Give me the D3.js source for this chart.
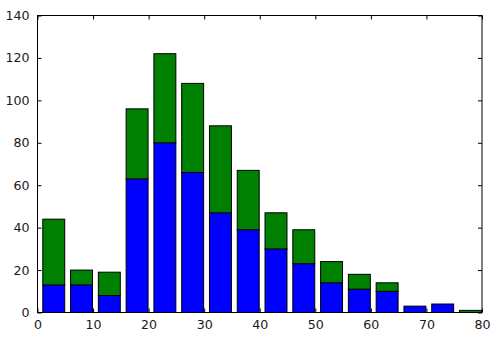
<!DOCTYPE html>
<html>
<head>
<meta charset="utf-8">
<script src="https://cdn.jsdelivr.net/npm/d3@7"></script>
<style>
  body { margin: 0; background: #fff; }
  text { font-family: "DejaVu Sans", sans-serif; font-size: 12.6px; fill: #1a1a1a; }
</style>
</head>
<body>
<svg id="chart" width="500" height="340"></svg>
<script>
// histogram bins (left edge of each bin, width 5)
var binLeft = [0, 5, 10, 15, 20, 25, 30, 35, 40, 45, 50, 55, 60, 65, 70, 75];
// bottom series (blue) and stacked series (green)
var blueCounts = [13, 13, 8, 63, 80, 66, 47, 39, 30, 23, 14, 11, 10, 3, 4, 0];
var greenCounts = [31, 7, 11, 33, 42, 42, 41, 28, 17, 16, 10, 7, 4, 0, 0, 1];
var xTicks = [0, 10, 20, 30, 40, 50, 60, 70, 80];
var yTicks = [0, 20, 40, 60, 80, 100, 120, 140];

var margin = {left: 37.5, right: 18, top: 15.5, bottom: 27.5};
var width = 500, height = 340;

var svg = d3.select('#chart');

var x = d3.scaleLinear().domain([0, 80]).range([margin.left, width - margin.right]);
var y = d3.scaleLinear().domain([0, 140]).range([height - margin.bottom, margin.top]);

var barOffset = 0.95, barWidth = 3.95;

var g = svg.append('g');

// blue bars
g.selectAll('rect.blue')
    .data(binLeft.filter(function(d, i) { return blueCounts[i] > 0; }))
    .enter().append('rect')
    .attr('class', 'blue')
    .attr('x', function(d) { return x(d + barOffset); })
    .attr('width', function(d) { return x(d + barOffset + barWidth) - x(d + barOffset); })
    .attr('y', function(d) { return y(blueCounts[binLeft.indexOf(d)]); })
    .attr('height', function(d) { return y(0) - y(blueCounts[binLeft.indexOf(d)]); })
    .attr('fill', '#0000ff')
    .attr('stroke', '#000')
    .attr('stroke-width', 1);

// green bars stacked on top
g.selectAll('rect.green')
    .data(binLeft.filter(function(d, i) { return greenCounts[i] > 0; }))
    .enter().append('rect')
    .attr('class', 'green')
    .attr('x', function(d) { return x(d + barOffset); })
    .attr('width', function(d) { return x(d + barOffset + barWidth) - x(d + barOffset); })
    .attr('y', function(d) {
        var i = binLeft.indexOf(d);
        return y(blueCounts[i] + greenCounts[i]);
    })
    .attr('height', function(d) {
        var i = binLeft.indexOf(d);
        return y(blueCounts[i]) - y(blueCounts[i] + greenCounts[i]);
    })
    .attr('fill', '#008000')
    .attr('stroke', '#000')
    .attr('stroke-width', 1);

// axes, matplotlib classic style: inward ticks on all sides
var tickLen = 4;
var bottomAxis = d3.axisBottom(x).tickValues(xTicks).tickSize(-tickLen).tickPadding(8).tickFormat(d3.format('d'));
var topAxis = d3.axisTop(x).tickValues(xTicks).tickSize(-tickLen).tickFormat('');
var leftAxis = d3.axisLeft(y).tickValues(yTicks).tickSize(-tickLen).tickPadding(8).tickFormat(d3.format('d'));
var rightAxis = d3.axisRight(y).tickValues(yTicks).tickSize(-tickLen).tickFormat('');

function styleAxis(sel) {
    sel.select('.domain').remove();
    sel.selectAll('line').attr('stroke', '#000');
    sel.selectAll('text').attr('font-family', null).attr('font-size', null).attr('fill', null);
}

svg.append('g').attr('transform', 'translate(0,' + y(0) + ')').call(bottomAxis).call(styleAxis);
svg.append('g').attr('transform', 'translate(0,' + y(140) + ')').call(topAxis).call(styleAxis);
svg.append('g').attr('transform', 'translate(' + x(0) + ',0)').call(leftAxis).call(styleAxis);
svg.append('g').attr('transform', 'translate(' + x(80) + ',0)').call(rightAxis).call(styleAxis);

// frame
svg.append('rect')
    .attr('x', x(0))
    .attr('y', y(140))
    .attr('width', x(80) - x(0))
    .attr('height', y(0) - y(140))
    .attr('fill', 'none')
    .attr('stroke', '#000')
    .attr('stroke-width', 1);
</script>
</body>
</html>
